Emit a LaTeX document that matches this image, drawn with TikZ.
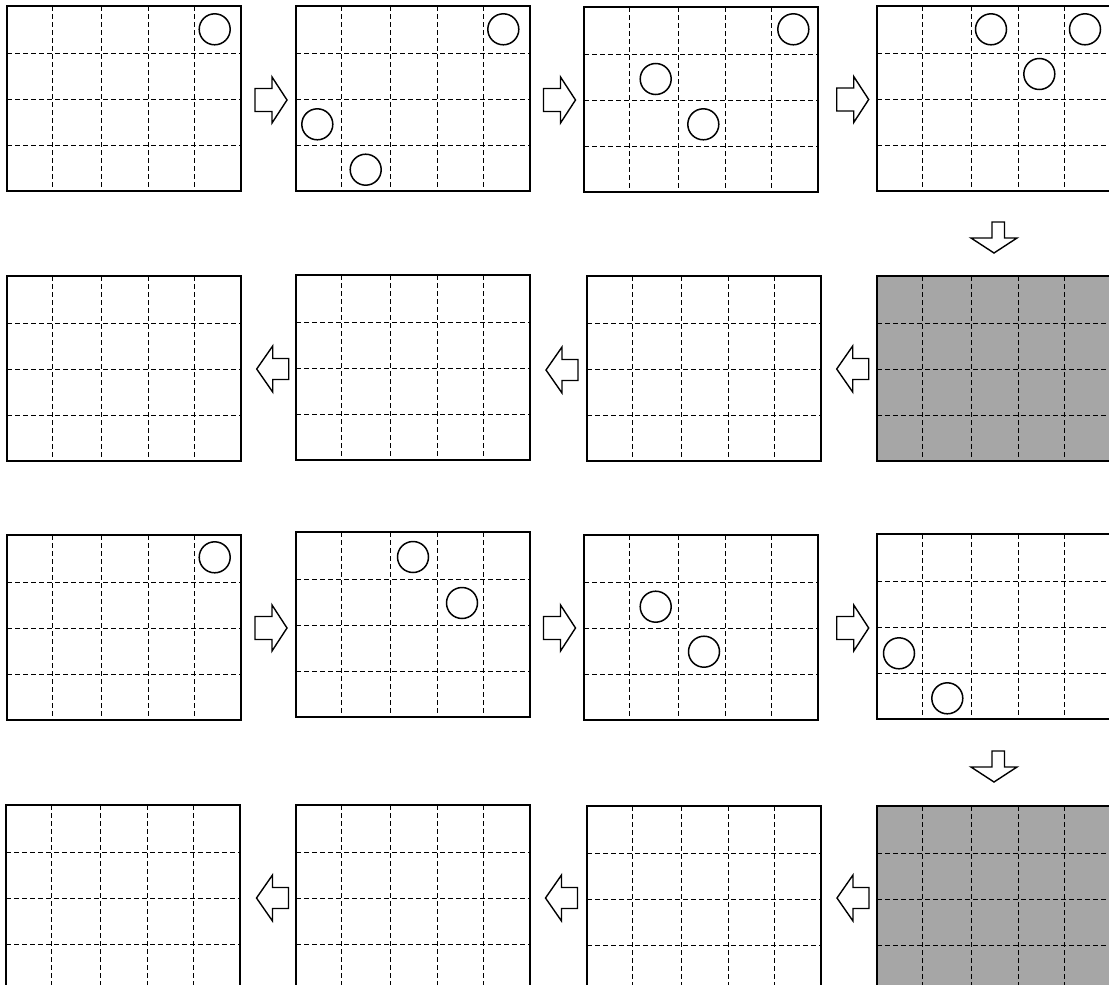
\documentclass[tikz,border=0pt]{standalone}
\usetikzlibrary{calc}
\definecolor{panelgray}{RGB}{166,166,166}
\tikzset{
  border/.style={line width=1.8pt},
  gridline/.style={line width=1pt, dash pattern=on 5pt off 3pt},
  token/.style={circle, draw, line width=1.5pt, minimum size=31pt, inner sep=0pt},
  blockarrow/.style={draw, line width=1.4pt, fill=white, line join=miter},
  rarrow/.pic={\draw[blockarrow] (0,-11.5) -- (17,-11.5) -- (17,-23) -- (32,0) -- (17,23) -- (17,11.5) -- (0,11.5) -- cycle;},
  larrow/.pic={\draw[blockarrow] (0,0) -- (16,-23) -- (16,-10.5) -- (32,-10.5) -- (32,10.5) -- (16,10.5) -- (16,23) -- cycle;},
  darrow/.pic={\draw[blockarrow] (-2,-31) -- (10.5,-31) -- (10.5,-15) -- (23,-15) -- (0,0) -- (-23,-15) -- (-2,-15) -- cycle;},
}
\newcommand\gridpanel[4]{%
  \begin{scope}[shift={(#2,#3)}]
    \coordinate (#1) at (0,0);
    \fill[#4] (0,0) rectangle (234,185);
    \foreach \cx in {45,94,141,187} \draw[gridline] (\cx,0) -- (\cx,185);
    \foreach \cy in {47,93,139} \draw[gridline] (0,\cy) -- (234,\cy);
    \draw[border] (0,0) rectangle (234,185);
  \end{scope}}
\begin{document}
\begin{tikzpicture}[x=1pt,y=-1pt]
\useasboundingbox (0,0) rectangle (1109,985);
\clip (0,0) rectangle (1109,985);
% row 1
\gridpanel{ga1}{7}{6}{white}
\gridpanel{ga2}{296}{6}{white}
\gridpanel{ga3}{584}{7}{white}
\gridpanel{ga4}{877}{6}{white}
% row 2
\gridpanel{gb1}{7}{276}{white}
\gridpanel{gb2}{296}{275}{white}
\gridpanel{gb3}{587}{276}{white}
\gridpanel{gb4}{877}{276}{panelgray}
% row 3
\gridpanel{gc1}{7}{535}{white}
\gridpanel{gc2}{296}{532}{white}
\gridpanel{gc3}{584}{535}{white}
\gridpanel{gc4}{877}{534}{white}
% row 4
\gridpanel{gd1}{6}{805}{white}
\gridpanel{gd2}{296}{805}{white}
\gridpanel{gd3}{587}{806}{white}
\gridpanel{gd4}{877}{806}{panelgray}
% tokens row 1
\node[token] (ta1a) at ($(ga1)+(207.7,23.3)$) {};
\node[token] (ta2a) at ($(ga2)+(207.3,23.3)$) {};
\node[token] (ta2b) at ($(ga2)+(21.3,118.3)$) {};
\node[token] (ta2c) at ($(ga2)+(69.7,163.7)$) {};
\node[token] (ta3a) at ($(ga3)+(209.3,22.3)$) {};
\node[token] (ta3b) at ($(ga3)+(71.7,72)$) {};
\node[token] (ta3c) at ($(ga3)+(119.3,117.3)$) {};
\node[token] (ta4a) at ($(ga4)+(114,23.3)$) {};
\node[token] (ta4b) at ($(ga4)+(208,23.3)$) {};
\node[token] (ta4c) at ($(ga4)+(162.3,68)$) {};
% tokens row 3
\node[token] (tc1a) at ($(gc1)+(207.7,22.3)$) {};
\node[token] (tc2a) at ($(gc2)+(117,25)$) {};
\node[token] (tc2b) at ($(gc2)+(166,71)$) {};
\node[token] (tc3a) at ($(gc3)+(71.7,71.7)$) {};
\node[token] (tc3b) at ($(gc3)+(120,116.7)$) {};
\node[token] (tc4a) at ($(gc4)+(22,119.3)$) {};
\node[token] (tc4b) at ($(gc4)+(70.3,164.3)$) {};
% arrows row 1
\pic (aa1) at (255,100) {rarrow};
\pic (aa2) at (543.5,100) {rarrow};
\pic (aa3) at (836.7,99.5) {rarrow};
\pic (ad1) at (994,253) {darrow};
% arrows row 2
\pic (ab1) at (256.7,369) {larrow};
\pic (ab2) at (546,370) {larrow};
\pic (ab3) at (836.7,369) {larrow};
% arrows row 3
\pic (ac1) at (255,628) {rarrow};
\pic (ac2) at (543.5,628) {rarrow};
\pic (ac3) at (836.7,628) {rarrow};
\pic (ad2) at (994,782) {darrow};
% arrows row 4
\pic (ae1) at (256.5,898) {larrow};
\pic (ae2) at (545.5,898) {larrow};
\pic (ae3) at (837,898) {larrow};
\end{tikzpicture}
\end{document}
